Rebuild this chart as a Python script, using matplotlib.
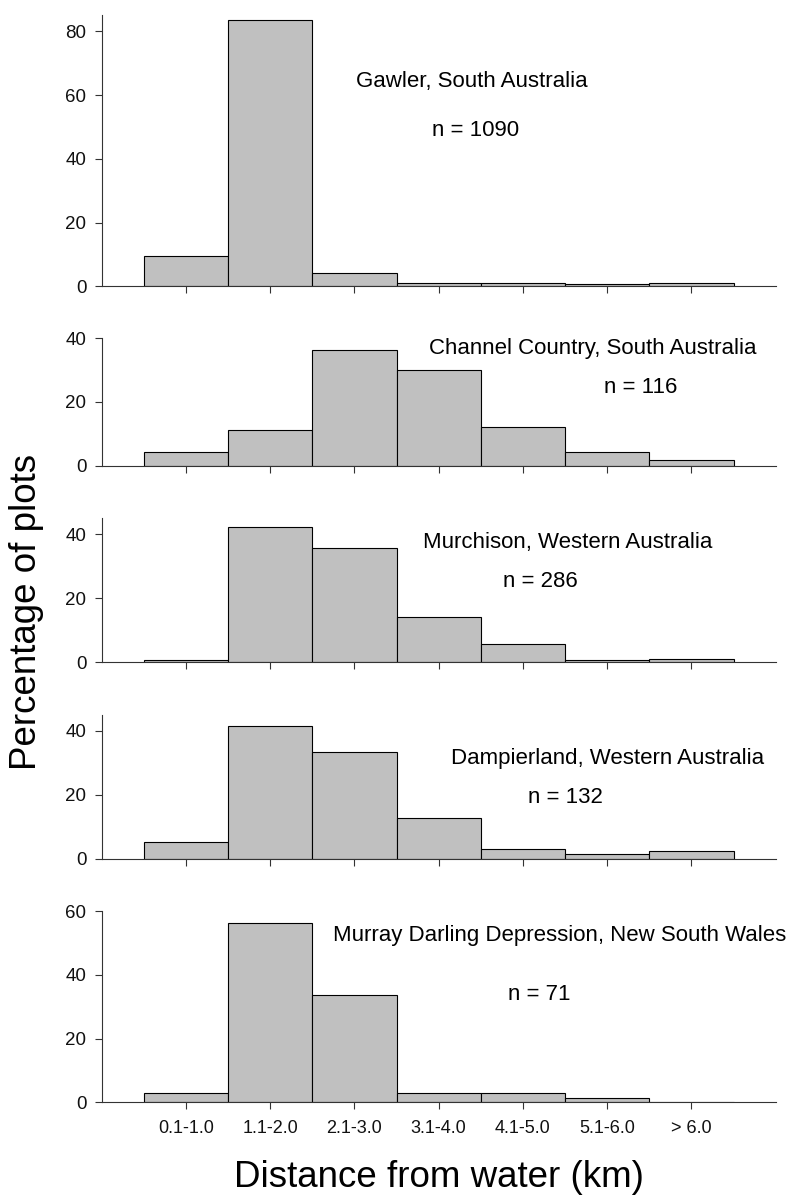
"""Percentage of plots by distance from water, five regions."""

import matplotlib
matplotlib.use("Agg")
import matplotlib.pyplot as plt

plt.rcParams["font.family"] = ["Liberation Sans", "DejaVu Sans"]

CATEGORIES = ["0.1-1.0", "1.1-2.0", "2.1-3.0", "3.1-4.0", "4.1-5.0", "5.1-6.0", "> 6.0"]

REGIONS = [
    "Gawler, South Australia",
    "Channel Country, South Australia",
    "Murchison, Western Australia",
    "Dampierland, Western Australia",
    "Murray Darling Depression, New South Wales",
]
SAMPLE_SIZES = [1090, 116, 286, 132, 71]

GAWLER = [9.5, 83.6, 4.1, 1.0, 1.0, 0.8, 0.9]
CHANNEL_COUNTRY = [4.3, 11.2, 36.2, 30.2, 12.1, 4.3, 1.7]
MURCHISON = [0.7, 42.3, 35.7, 14.0, 5.6, 0.7, 1.0]
DAMPIERLAND = [5.3, 41.7, 33.3, 12.9, 3.0, 1.5, 2.3]
MURRAY_DARLING = [2.8, 56.3, 33.8, 2.8, 2.8, 1.4, 0.0]

Y_TICKS = [
    [0, 20, 40, 60, 80],
    [0, 20, 40],
    [0, 20, 40],
    [0, 20, 40],
    [0, 20, 40, 60],
]
Y_MAX = [85, 40, 45, 45, 60]

W, H = 793, 1195
# panel top / bottom in pixels
PANEL_PX = [(15.3, 286.3), (338.3, 465.7), (518.3, 662.3), (715.0, 858.7), (911.0, 1102.3)]
# label and n positions in data coords (x, y baseline)
LABEL_POS = [(3.39, 62.4), (4.83, 35.0), (4.53, 35.6), (5.01, 29.7), (4.44, 50.7)]
N_POS = [(3.44, 47.2), (5.40, 22.9), (4.21, 23.4), (4.50, 17.4), (4.19, 32.1)]


def main() -> None:
    fig = plt.figure(figsize=(W / 100, H / 100), dpi=100)
    series = [GAWLER, CHANNEL_COUNTRY, MURCHISON, DAMPIERLAND, MURRAY_DARLING]
    left = 101.7 / W
    width = (775.7 - 101.7) / W
    x = list(range(len(CATEGORIES)))

    for i, values in enumerate(series):
        top, bottom = PANEL_PX[i]
        ax = fig.add_axes([left, 1 - bottom / H, width, (bottom - top) / H])
        ax.bar(x, values, width=1.0, color="#c0c0c0", edgecolor="black", linewidth=0.8)
        ax.set_xlim(-1, 7)
        ax.set_ylim(0, Y_MAX[i])
        ax.set_yticks(Y_TICKS[i])
        ax.set_xticks(x)
        if i == len(series) - 1:
            ax.set_xticklabels(CATEGORIES, fontsize=13)
        else:
            ax.set_xticklabels([])
        ax.tick_params(axis="y", labelsize=13.5, length=5, width=0.8, pad=6,
                       color="#333333", labelcolor="#111111")
        ax.tick_params(axis="x", length=5, width=0.8, pad=8,
                       color="#333333", labelcolor="#111111")
        for side in ["top", "right"]:
            ax.spines[side].set_visible(False)
        for side in ["left", "bottom"]:
            ax.spines[side].set_linewidth(0.8)
            ax.spines[side].set_color("#333333")
        ax.text(*LABEL_POS[i], REGIONS[i], ha="center", va="baseline", fontsize=16)
        ax.text(*N_POS[i], f"n = {SAMPLE_SIZES[i]}", ha="center", va="baseline", fontsize=16)

    fig.text(27 / W, 1 - 612 / H, "Percentage of plots", rotation=90,
             ha="center", va="center", fontsize=26.5)
    fig.text(439 / W, 1 - 1186.7 / H, "Distance from water (km)",
             ha="center", va="baseline", fontsize=26.5)

    fig.savefig("out.png", dpi=100)
    plt.close(fig)


if __name__ == "__main__":
    main()
